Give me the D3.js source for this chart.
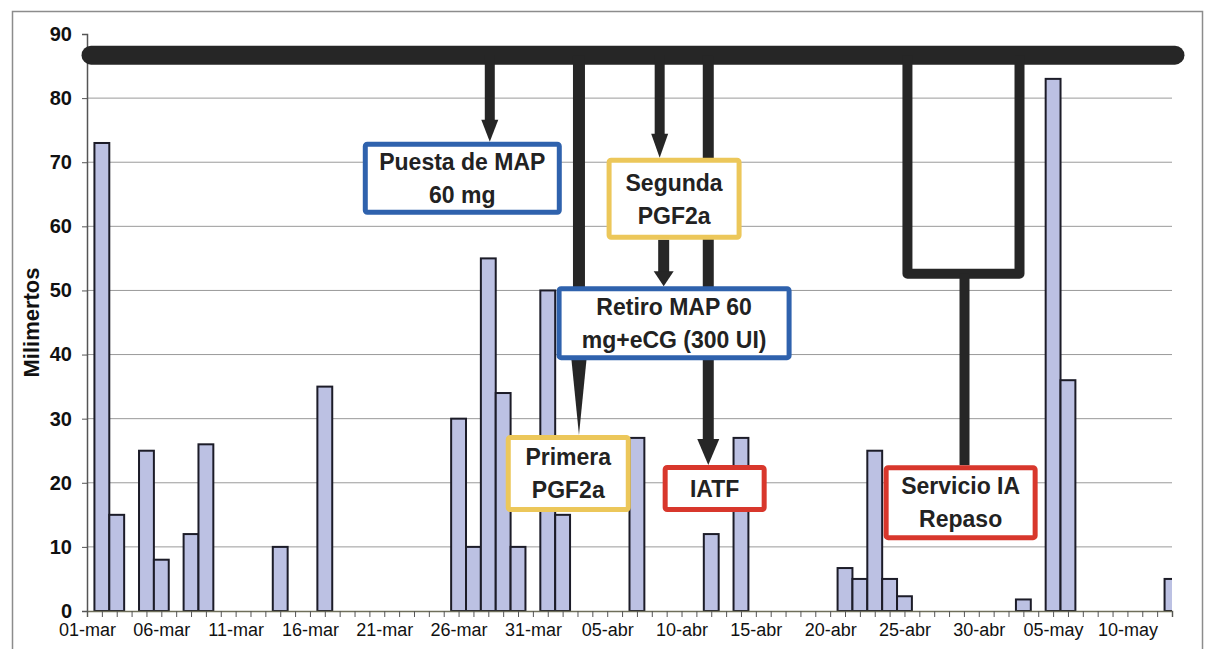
<!DOCTYPE html>
<html>
<head>
<meta charset="utf-8">
<script src="https://cdn.jsdelivr.net/npm/d3@7"></script>
<style>
  html, body { margin: 0; padding: 0; background: #fff; }
  svg { display: block; font-family: "Liberation Sans", Arial, sans-serif; }
</style>
</head>
<body>
<svg id="chart" width="1207" height="649"></svg>
<script>
// Daily categories, 01-mar .. 13-may
const months = [["mar", 31], ["abr", 30], ["may", 13]];
const days = [];
months.forEach(([m, n]) => {
  for (let i = 1; i <= n; i++) days.push(String(i).padStart(2, "0") + "-" + m);
});

// Rainfall in mm for the days that had any
const rainDays = ["02-mar","03-mar","05-mar","06-mar","08-mar","09-mar","14-mar","17-mar",
  "26-mar","27-mar","28-mar","29-mar","30-mar","01-abr","02-abr","07-abr","12-abr","14-abr",
  "21-abr","22-abr","23-abr","24-abr","25-abr","03-may","05-may","06-may","13-may"];
const rainValues = [73, 15, 25, 8, 12, 26, 10, 35,
  30, 10, 55, 34, 10, 50, 15, 27, 12, 27,
  6.7, 5, 25, 5, 2.3, 1.8, 83, 36, 5];

// Axis tick labels (every fifth day)
const tickLabels = ["01-mar","06-mar","11-mar","16-mar","21-mar","26-mar","31-mar","05-abr",
  "10-abr","15-abr","20-abr","25-abr","30-abr","05-may","10-may"];
const yTicks = [0, 10, 20, 30, 40, 50, 60, 70, 80, 90];

// Protocol timeline: boxes placed by day index and mm level
const boxes = [
  { lines: ["Puesta de MAP", "60 mg"], day: 25.25, level: 67.5, w: 199, h: 73, color: "#2f62ad" },
  { lines: ["Segunda", "PGF2a"], day: 39.5, level: 64.3, w: 135, h: 82, color: "#ecc75a" },
  { lines: ["Retiro MAP 60", "mg+eCG (300 UI)"], day: 39.5, level: 44.9, w: 235, h: 74, color: "#2f62ad" },
  { lines: ["Primera", "PGF2a"], day: 32.38, level: 21.45, w: 125, h: 77, color: "#ecc75a" },
  { lines: ["IATF"], day: 42.23, level: 19.1, w: 104, h: 47, color: "#d8372c" },
  { lines: ["Servicio IA", "Repaso"], day: 58.78, level: 16.9, w: 154, h: 75, color: "#d8372c" }
];

const rain = new Map(rainDays.map((d, i) => [d, rainValues[i]]));
const data = days.map(d => ({ day: d, mm: rain.get(d) || 0 }));

const svg = d3.select("#chart");
const plotLeft = 87, plotRight = 1172, plotTop = 34, plotBottom = 611;

const x = d3.scalePoint().domain(days).range([plotLeft, plotRight]).padding(0);
const xi = d3.scaleLinear().domain([0, days.length - 1]).range([plotLeft, plotRight]);
const y = d3.scaleLinear().domain([0, 90]).range([plotBottom, plotTop]);
const step = x.step();

// outer frame
svg.append("rect").attr("x", 12.5).attr("y", 11.5).attr("width", 1190).attr("height", 660)
  .attr("fill", "#fff").attr("stroke", "#8c8c8c").attr("stroke-width", 1.5);

// gridlines
svg.append("g").selectAll("line").data(yTicks.filter(v => v > 0 && v < 90)).join("line")
  .attr("x1", plotLeft).attr("x2", plotRight)
  .attr("y1", d => y(d)).attr("y2", d => y(d))
  .attr("stroke", "#9a9a9a").attr("stroke-width", 1);

// bars
svg.append("clipPath").attr("id", "plotClip").append("rect")
  .attr("x", plotLeft).attr("y", 0).attr("width", plotRight - plotLeft).attr("height", plotBottom + 1);

svg.append("g").attr("clip-path", "url(#plotClip)")
  .selectAll("rect").data(data.filter(d => d.mm > 0)).join("rect")
  .attr("x", d => x(d.day) - step / 2)
  .attr("y", d => y(d.mm))
  .attr("width", step)
  .attr("height", d => y(0) - y(d.mm))
  .attr("fill", "#bcc1e3")
  .attr("stroke", "#1c1c28")
  .attr("stroke-width", 2);

// axes
const labelSet = new Set(tickLabels);
const xAxis = svg.append("g").attr("transform", `translate(0,${plotBottom})`)
  .call(d3.axisBottom(x).tickSize(6).tickPadding(6)
    .tickFormat(d => labelSet.has(d) ? d : ""));
xAxis.select(".domain").attr("stroke", "#6f6f5a").attr("stroke-width", 1.5);
xAxis.selectAll(".tick line").attr("stroke", "#555").attr("stroke-width", 1);
xAxis.selectAll("text").attr("font-size", 18).attr("fill", "#111")
  .attr("font-family", "'Liberation Sans', Arial, sans-serif");

const yAxis = svg.append("g").attr("transform", `translate(${plotLeft},0)`)
  .call(d3.axisLeft(y).tickValues(yTicks).tickSize(5).tickPadding(10));
yAxis.select(".domain").attr("stroke", "#555").attr("stroke-width", 1.5);
yAxis.selectAll(".tick line").attr("stroke", "#555");
yAxis.selectAll("text").attr("font-size", 20).attr("font-weight", "bold").attr("fill", "#111")
  .attr("font-family", "'Liberation Sans', Arial, sans-serif");

svg.append("text")
  .attr("transform", `translate(39,${(plotTop + plotBottom) / 2}) rotate(-90)`)
  .attr("text-anchor", "middle")
  .attr("font-size", 22).attr("font-weight", "bold").attr("fill", "#111")
  .text("Milimertos");

// timeline annotations
const ink = "#262626";
const ann = svg.append("g");
const barLevel = 86.7;

ann.append("line")
  .attr("x1", xi(0.27)).attr("x2", xi(73.2))
  .attr("y1", y(barLevel)).attr("y2", y(barLevel))
  .attr("stroke", ink).attr("stroke-width", 19).attr("stroke-linecap", "round");

function arrow(day, from, to, shaft, headW, headL) {
  const cx = xi(day), y0 = y(from), y1 = y(to);
  ann.append("line").attr("x1", cx).attr("x2", cx)
    .attr("y1", y0).attr("y2", y1 - headL + 1)
    .attr("stroke", ink).attr("stroke-width", shaft);
  ann.append("path")
    .attr("d", `M${cx - headW / 2},${y1 - headL} L${cx + headW / 2},${y1 - headL} L${cx},${y1} Z`)
    .attr("fill", ink);
}

const mmPerPx = 90 / (plotBottom - plotTop);
const boxTop = b => b.level + (b.h / 2) * mmPerPx;
const boxBottom = b => b.level - (b.h / 2) * mmPerPx;

arrow(27.1, barLevel, boxTop(boxes[0]), 10, 17, 22);
arrow(33.1, barLevel, boxTop(boxes[3]), 12, 18, 90);
arrow(38.53, barLevel, boxTop(boxes[1]), 10, 17, 24);
arrow(38.8, boxBottom(boxes[1]), boxTop(boxes[2]), 11, 20, 15);
arrow(41.8, barLevel, boxTop(boxes[4]), 11, 22, 26);

// bracket for the repeat service
const bracketLevel = 52.6;
ann.append("path")
  .attr("d", `M${xi(55.2)},${y(barLevel)} L${xi(55.2)},${y(bracketLevel)} L${xi(62.74)},${y(bracketLevel)} L${xi(62.74)},${y(barLevel)}`)
  .attr("fill", "none").attr("stroke", ink).attr("stroke-width", 10).attr("stroke-linejoin", "round");
ann.append("line")
  .attr("x1", xi(59.04)).attr("x2", xi(59.04))
  .attr("y1", y(bracketLevel)).attr("y2", y(boxTop(boxes[5])))
  .attr("stroke", ink).attr("stroke-width", 10);

// labelled boxes
const bg = svg.append("g").selectAll("g").data(boxes).join("g")
  .attr("transform", d => `translate(${xi(d.day)},${y(d.level)})`);
bg.append("rect")
  .attr("x", d => -d.w / 2 + 2.5).attr("y", d => -d.h / 2 + 2.5)
  .attr("width", d => d.w - 5).attr("height", d => d.h - 5)
  .attr("rx", 2)
  .attr("fill", "#fff").attr("stroke", d => d.color).attr("stroke-width", 5);
bg.each(function(d) {
  const g = d3.select(this);
  const lh = 33;
  d.lines.forEach((t, i) => {
    g.append("text")
      .attr("x", 0)
      .attr("y", (i - (d.lines.length - 1) / 2) * lh)
      .attr("dy", "0.36em")
      .attr("text-anchor", "middle")
      .attr("font-size", 23).attr("font-weight", "bold").attr("fill", "#222")
      .text(t);
  });
});
</script>
</body>
</html>
